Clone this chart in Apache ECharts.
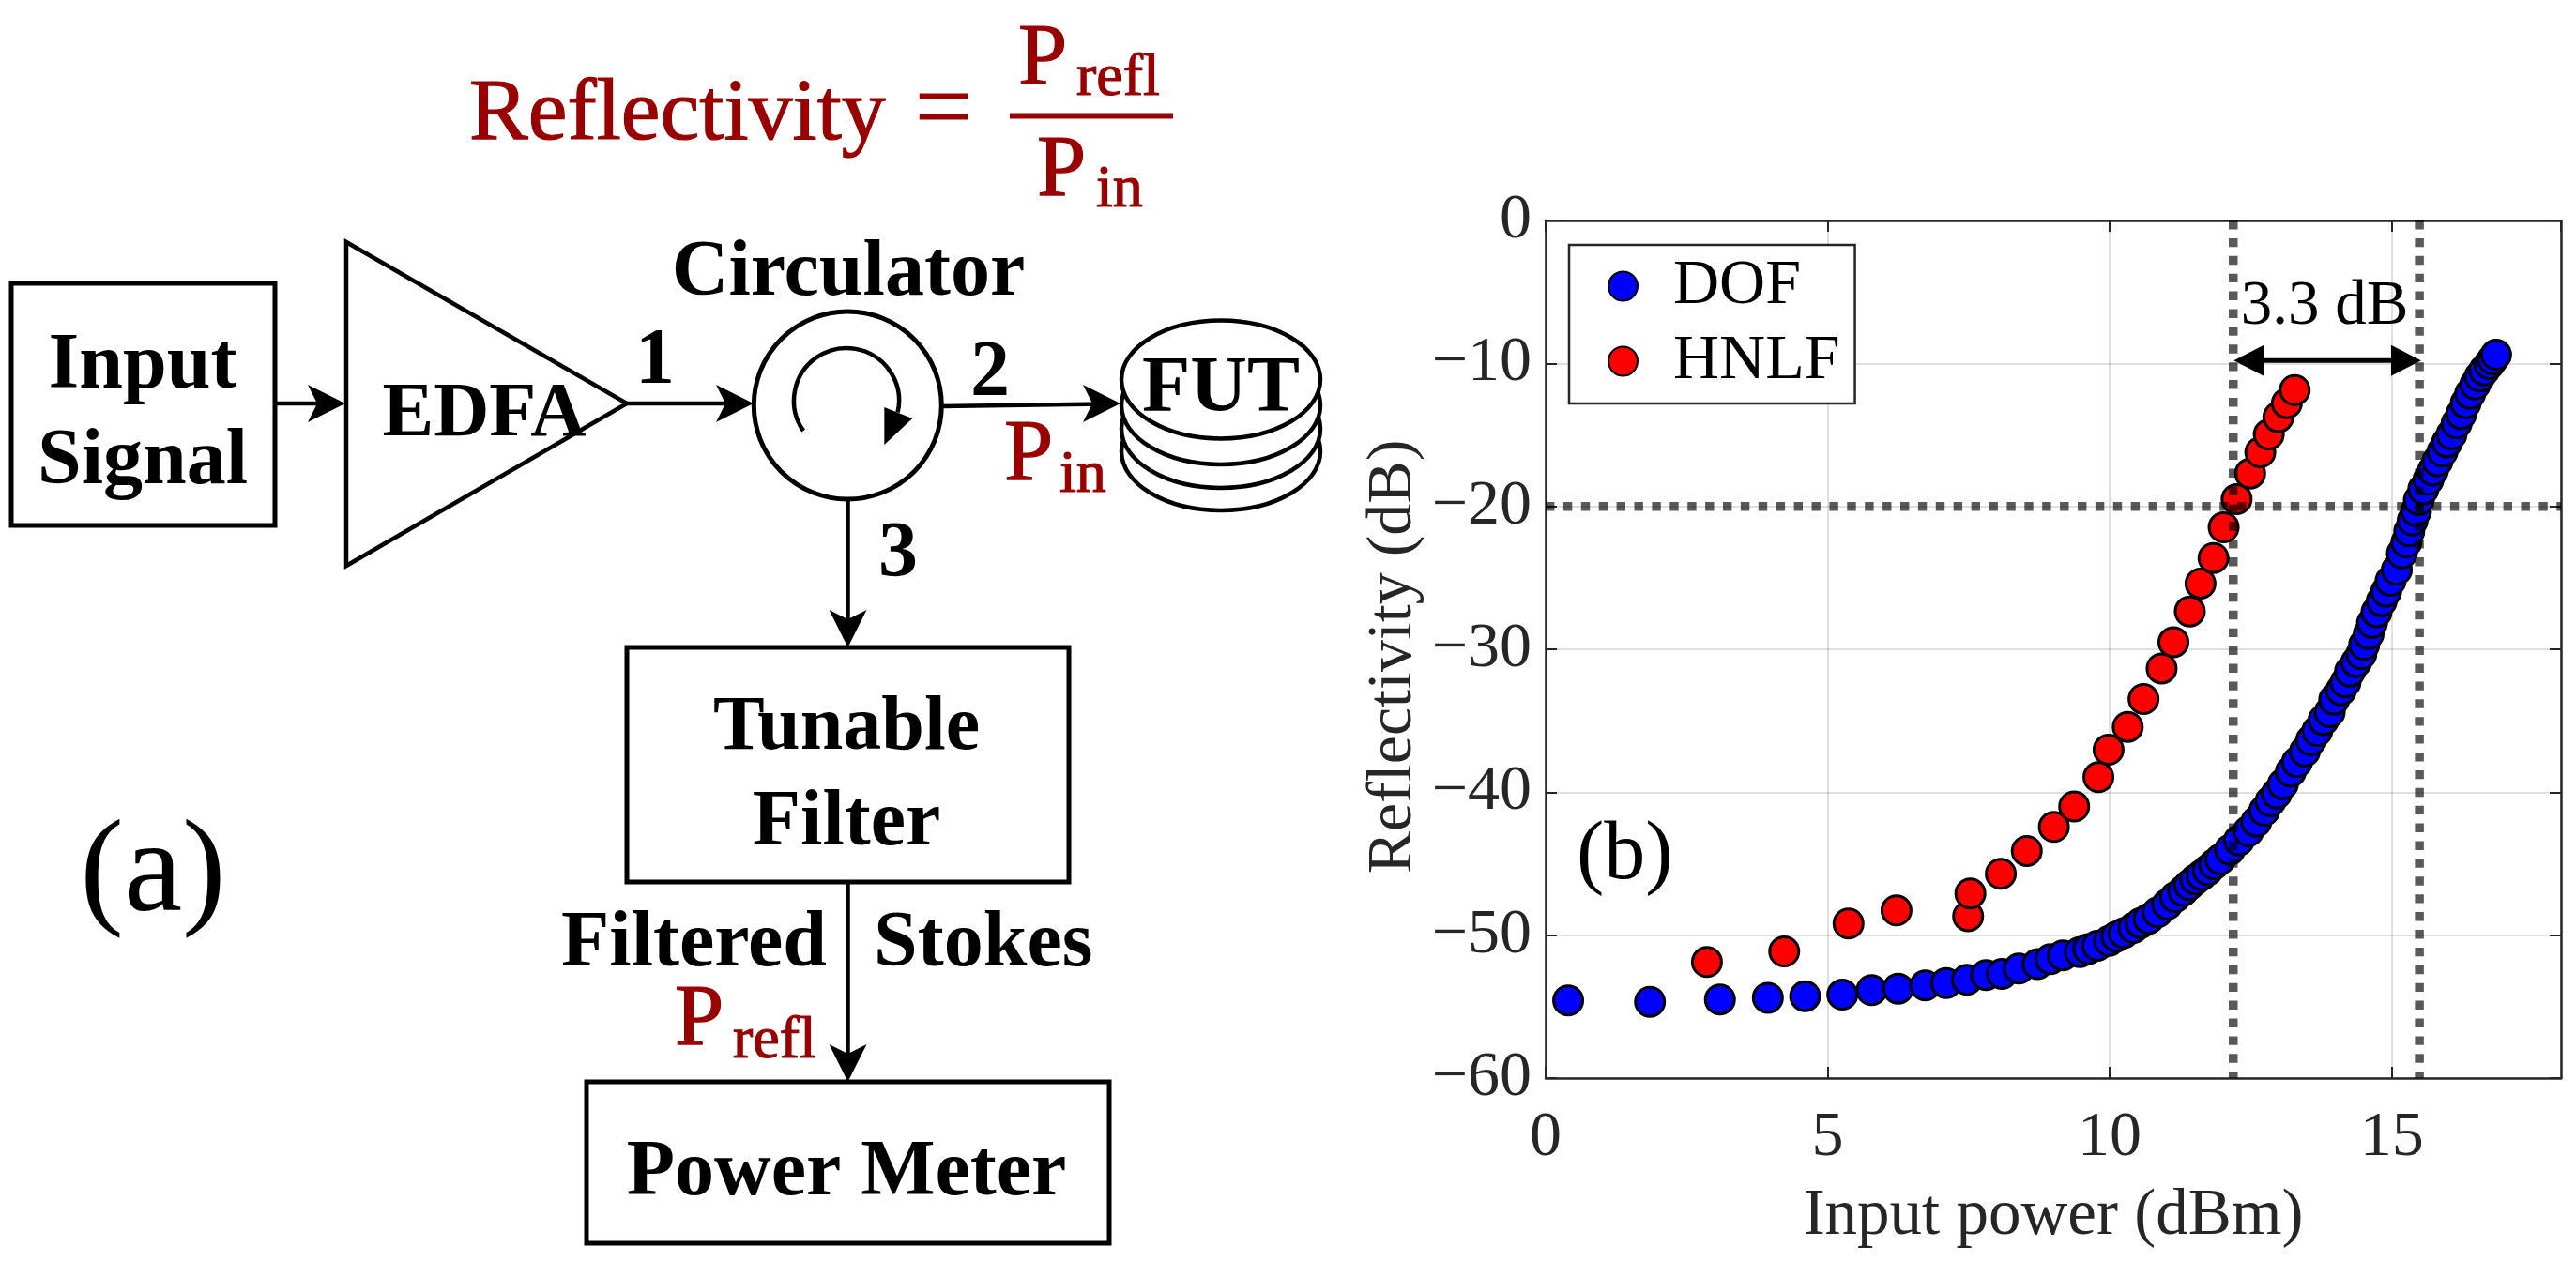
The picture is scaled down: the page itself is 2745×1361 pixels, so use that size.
<!DOCTYPE html>
<html>
<head>
<meta charset="utf-8">
<style>html,body{margin:0;padding:0;background:#fff}#c{width:2745px;height:1361px}</style>
<script src="https://cdn.jsdelivr.net/npm/echarts@6/dist/echarts.min.js"></script>
</head>
<body>
<div id="c"></div>
<script>
const dofX = [0.40,1.85,3.09,3.94,4.60,5.26,5.78,6.25,6.73,7.10,7.47,7.81,8.09,8.39,8.72,8.95,9.17,9.47,9.62,9.78,9.99,10.12,10.25,10.42,10.55,10.69,10.85,11.02,11.16,11.30,11.41,11.52,11.63,11.74,11.85,11.96,12.13,12.29,12.46,12.60,12.74,12.85,12.96,13.07,13.21,13.32,13.46,13.57,13.68,13.79,13.90,13.98,14.10,14.18,14.26,14.37,14.46,14.51,14.59,14.65,14.73,14.82,14.90,14.98,15.09,15.18,15.26,15.31,15.37,15.43,15.48,15.56,15.65,15.73,15.81,15.90,15.98,16.06,16.15,16.23,16.31,16.39,16.48,16.56,16.64,16.73,16.79,16.85];
const dofY = [-54.57,-54.66,-54.50,-54.38,-54.27,-54.16,-53.85,-53.74,-53.52,-53.35,-53.13,-52.80,-52.71,-52.34,-52.03,-51.68,-51.42,-51.18,-50.98,-50.75,-50.40,-50.10,-49.85,-49.50,-49.15,-48.85,-48.40,-47.85,-47.35,-46.90,-46.50,-46.11,-45.80,-45.45,-45.05,-44.69,-44.03,-43.37,-42.72,-42.06,-41.29,-40.64,-40.09,-39.43,-38.56,-37.90,-37.14,-36.37,-35.71,-34.95,-34.40,-33.52,-32.87,-32.32,-31.55,-30.90,-30.35,-29.69,-28.93,-28.16,-27.40,-26.63,-25.97,-25.21,-24.44,-23.29,-22.52,-21.75,-20.99,-20.33,-19.56,-18.80,-18.14,-17.49,-16.83,-16.17,-15.52,-14.97,-14.20,-13.55,-12.78,-12.12,-11.47,-10.92,-10.48,-10.04,-9.72,-9.39];
const hnlfX = [2.86,4.23,5.37,6.22,7.49,7.53,8.07,8.53,9.01,9.37,9.80,9.98,10.32,10.60,10.92,11.13,11.42,11.61,11.84,12.02,12.25,12.49,12.67,12.82,12.99,13.14,13.28];
const hnlfY = [-51.88,-51.14,-49.19,-48.27,-48.67,-47.09,-45.71,-44.11,-42.43,-41.00,-38.95,-37.03,-35.43,-33.48,-31.34,-29.50,-27.35,-25.40,-23.61,-21.47,-19.50,-17.70,-16.22,-14.97,-13.76,-12.78,-11.86];
const vGuides = [12.19, 15.49];
const hGuide = -20;
const gapArrow = [12.20, 15.52, -9.80];
const seriesNames = ['DOF', 'HNLF'];
const xTitle = 'Input power (dBm)';
const yTitle = 'Reflectivity (dB)';

const SERIF = '"Liberation Serif", serif';
const INK = '#262626', DARKRED = '#990000';
const zip = (a, b) => a.map((v, i) => [v, b[i]]);

/* diagram helpers */
const g = [];
function T(text, x, base, size, o) {
  o = o || {};
  const st = {text, x, y: base - size * 0.23, fill: o.fill || '#000',
    font: (o.bold ? 'bold ' : '') + size + 'px ' + SERIF,
    textAlign: o.align || 'center', textVerticalAlign: 'middle', textBaseline: 'middle'};
  if (o.fill) { st.stroke = o.fill; st.lineWidth = 1.2; }
  g.push({type: 'text', z: 50, style: st});
}
const stroke = (w) => ({stroke: '#000', lineWidth: w, fill: '#fff'});
function box(x1, y1, x2, y2) { g.push({type: 'rect', z: 10, shape: {x: x1, y: y1, width: x2 - x1, height: y2 - y1}, style: stroke(5)}); }
function seg(x1, y1, x2, y2, w, col) { g.push({type: 'line', z: 11, shape: {x1, y1, x2, y2}, style: {stroke: col || '#000', lineWidth: w || 4.5}}); }
function head(tx, ty, dx, dy) { // concave arrow head, tip at (tx,ty), pointing along (dx,dy)
  const L = 40, N = 30, H = 20, px = -dy, py = dx;
  g.push({type: 'polygon', z: 12, shape: {points: [
    [tx, ty],
    [tx - dx * L + px * H, ty - dy * L + py * H],
    [tx - dx * N, ty - dy * N],
    [tx - dx * L - px * H, ty - dy * L - py * H]]}, style: {fill: '#000'}});
}

/* boxes */
box(12, 302, 293, 560);
box(668, 690, 1139, 940);
box(625, 1153, 1182, 1325);
/* EDFA */
g.push({type: 'polygon', z: 10, shape: {points: [[369, 258], [369, 603], [668, 430]]}, style: stroke(4.5)});
/* circulator */
g.push({type: 'circle', z: 10, shape: {cx: 903.3, cy: 432, r: 100}, style: stroke(5)});
g.push({type: 'arc', z: 11, shape: {cx: 902, cy: 427, r: 56, startAngle: 145 * Math.PI / 180, endAngle: 373 * Math.PI / 180, clockwise: true}, style: {stroke: '#000', lineWidth: 4.5, fill: 'none'}});
g.push({type: 'polygon', z: 12, shape: {points: [[942.3, 434], [972.3, 446], [942.3, 474]]}, style: {fill: '#000'}});
/* FUT stack */
[481, 457, 432, 404.5].forEach((cy) => g.push({type: 'ellipse', z: 10, shape: {cx: 1301, cy, rx: 106, ry: 63}, style: stroke(4.5)}));
/* connectors */
seg(293, 430, 350, 430); head(368, 430, 1, 0);
seg(668, 430, 785, 430); head(803, 430, 1, 0);
seg(1004, 433, 1175, 430.5); head(1194, 430, 1, 0);
seg(903.5, 532, 903.5, 670); head(903.5, 690, 0, 1);
seg(903.5, 940, 903.5, 1133); head(903.5, 1153, 0, 1);

/* diagram text */
T('Input', 152, 411, 84, {bold: true});
T('Signal', 152, 513, 84, {bold: true});
T('EDFA', 516, 462, 82, {bold: true});
T('Circulator', 904, 312, 84, {bold: true});
T('1', 698, 406, 84, {bold: true});
T('2', 1055, 419, 84, {bold: true});
T('3', 957, 612, 84, {bold: true});
T('FUT', 1301, 436, 84, {bold: true});
T('Tunable', 902, 796, 82, {bold: true});
T('Filter', 902, 898, 84, {bold: true});
T('Filtered', 598, 1027, 84, {bold: true, align: 'left'});
T('Stokes', 931, 1027, 84, {bold: true, align: 'left'});
T('Power Meter', 902, 1271, 84, {bold: true});
T('(a)', 163, 965, 140);
/* red formula */
const R = {fill: DARKRED, align: 'left'};
T('Reflectivity', 500, 145, 94, R);
T('=', 975, 145, 108, R);
seg(1076, 123.5, 1250, 123.5, 6, DARKRED);
T('P', 1085, 86, 94, R); T('refl', 1147, 99, 64, R);
T('P', 1105, 204.5, 94, R); T('in', 1168, 218, 64, R);
T('P', 1070, 508, 94, R); T('in', 1129, 522, 64, R);
T('P', 719, 1110, 94, R); T('refl', 781, 1125, 64, R);
/* plot annotations */
T('(b)', 1680, 933, 88, {align: 'left'});
T('3.3 dB', 2477, 343, 67);

const guide = (data) => ({type: 'line', data, symbol: 'none', silent: true, z: 6, animation: false,
  lineStyle: {color: 'rgba(0,0,0,0.65)', width: 9.5, type: [9.4, 9.5], cap: 'butt'}});
const axisBase = {
  axisLine: {show: true, onZero: false, lineStyle: {color: INK, width: 2.5}},
  axisTick: {show: true, inside: true, length: 12, lineStyle: {color: INK, width: 2}},
  containShape: false
};
const grid = {left: 1647, right: 16, top: 235, bottom: 212, containLabel: false};
const labelStyle = {color: INK, fontFamily: SERIF, fontSize: 68};

const chart = echarts.init(document.getElementById('c'), null, {renderer: 'canvas', width: 2745, height: 1361});
chart.setOption({
  animation: false,
  backgroundColor: '#fff',
  grid,
  legend: {
    data: seriesNames, orient: 'vertical', left: 1672, top: 261,
    borderColor: INK, borderWidth: 2.5, backgroundColor: '#fff',
    padding: [4, 16, 5, 41], itemGap: 0, itemWidth: 31, itemHeight: 31, icon: 'circle',
    textStyle: {color: '#000', fontFamily: SERIF, fontSize: 68, lineHeight: 66, padding: [14, 0, 0, 33]},
    selectedMode: false, z: 20
  },
  xAxis: [
    Object.assign({}, axisBase, {type: 'value', min: 0, max: 18, interval: 5, position: 'bottom',
      name: xTitle, nameLocation: 'middle', nameGap: 113, nameTextStyle: Object.assign({}, labelStyle, {fontSize: 69}),
      axisLabel: Object.assign({}, labelStyle, {margin: 30, showMaxLabel: false, formatter: (v) => String(v)}),
      splitLine: {show: true, lineStyle: {color: 'rgba(38,38,38,0.15)', width: 2}}}),
    Object.assign({}, axisBase, {type: 'value', min: 0, max: 18, interval: 5, position: 'top',
      axisLabel: {show: false}, splitLine: {show: false}})
  ],
  yAxis: [
    Object.assign({}, axisBase, {type: 'value', min: -60, max: 0, interval: 10, position: 'left',
      name: yTitle, nameLocation: 'middle', nameGap: 128,
      nameTextStyle: Object.assign({}, labelStyle, {padding: [0, 16, 0, 0]}),
      axisLabel: Object.assign({}, labelStyle, {margin: 15, formatter: (v) => String(v).replace('-', '\u2212')}),
      splitLine: {show: true, lineStyle: {color: 'rgba(38,38,38,0.15)', width: 2}}}),
    Object.assign({}, axisBase, {type: 'value', min: -60, max: 0, interval: 10, position: 'right',
      axisLabel: {show: false}, splitLine: {show: false}})
  ],
  series: [
    {name: seriesNames[0], type: 'scatter', data: zip(dofX, dofY), symbol: 'circle', symbolSize: 31, z: 3,
      itemStyle: {color: '#0000ff', borderColor: '#000', borderWidth: 3, opacity: 1}},
    {name: seriesNames[1], type: 'scatter', data: zip(hnlfX, hnlfY), symbol: 'circle', symbolSize: 31, z: 4,
      itemStyle: {color: '#ff0000', borderColor: '#000', borderWidth: 3, opacity: 1}},
    guide([[vGuides[0], 0], [vGuides[0], -60]]),
    guide([[vGuides[1], 0], [vGuides[1], -60]]),
    guide([[0, hGuide], [18, hGuide]]),
    {type: 'custom', z: 7, silent: true, data: [gapArrow], encode: {x: [0, 1], y: 2}, clip: false,
      renderItem: (params, api) => {
        const a = api.coord([api.value(0), api.value(2)]);
        const b = api.coord([api.value(1), api.value(2)]);
        const L = 32, H = 16.5, y = a[1];
        return {type: 'group', children: [
          {type: 'line', shape: {x1: a[0] + L - 1, y1: y, x2: b[0] - L + 1, y2: y}, style: {stroke: '#000', lineWidth: 5}},
          {type: 'polygon', shape: {points: [[a[0], y], [a[0] + L, y - H], [a[0] + L, y + H]]}, style: {fill: '#000'}},
          {type: 'polygon', shape: {points: [[b[0], y], [b[0] - L, y - H], [b[0] - L, y + H]]}, style: {fill: '#000'}}
        ]};
      }}
  ],
  graphic: {elements: g}
});
</script>
</body>
</html>
